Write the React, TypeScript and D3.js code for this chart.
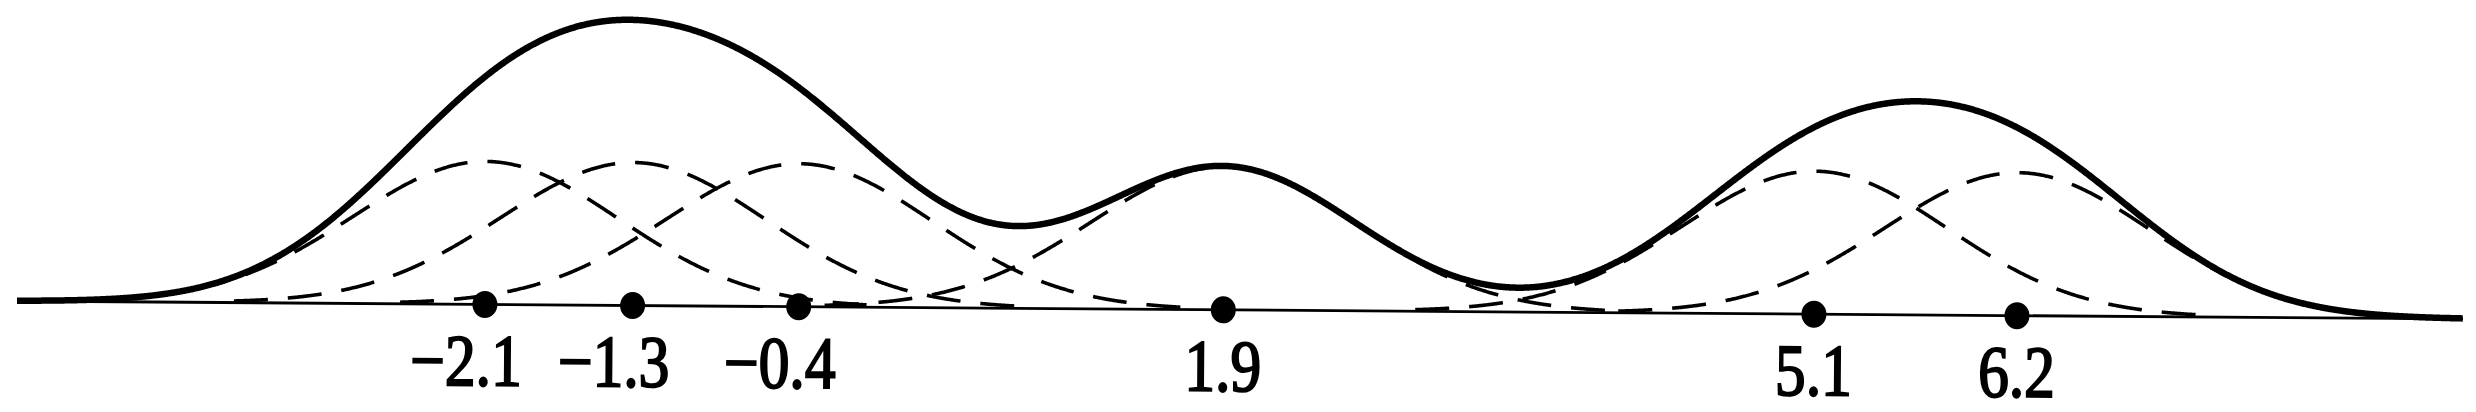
import React from "react";
import * as d3 from "d3";

// ---- data ----
const dataPoints: number[] = [-2.1, -1.3, -0.4, 1.9, 5.1, 6.2];
const tickLabels: string[] = ["−2.1", "−1.3", "−0.4", "1.9", "5.1", "6.2"];
const bandwidth = 0.72; // kernel standard deviation
const axisDomain: [number, number] = [-4.635, 8.616];
const kernelPeak = 1; // unnormalised kernel height
const yDomain: [number, number] = [0, 1];

const W = 2476;
const H = 412;

function kernel(v: number, c: number): number {
  const u = (v - c) / bandwidth;
  return kernelPeak * Math.exp(-0.5 * u * u);
}

export default function App() {
  const x = d3.scaleLinear().domain(axisDomain).range([17, 2463]);
  const y = d3.scaleLinear().domain(yDomain).range([301, 158]);

  const samples = d3.range(axisDomain[0], axisDomain[1] + 0.0001, 0.005);
  const line = d3
    .line<[number, number]>()
    .x((d) => x(d[0]))
    .y((d) => y(d[1]));

  const sumPath = line(
    samples.map((v) => [v, d3.sum(dataPoints, (c) => kernel(v, c))] as [number, number])
  );

  const kernelPaths = dataPoints.map((c) => {
    const pts = d3
      .range(c - 3 * bandwidth, c + 3 * bandwidth + 0.0001, 0.005)
      .map((v) => [v, kernel(v, c)] as [number, number]);
    return line(pts);
  });

  return (
    <svg
      width={W}
      height={H}
      viewBox={`0 0 ${W} ${H}`}
      style={{ position: "absolute", left: 0, top: 0, background: "#fff" }}
    >
      <rect x={0} y={0} width={W} height={H} fill="#fff" />
      <g transform="rotate(0.42 17 301)">
        {/* baseline axis */}
        <line
          x1={x(axisDomain[0])}
          x2={x(axisDomain[1])}
          y1={y(0)}
          y2={y(0)}
          stroke="#000"
          strokeWidth={2.8}
        />
        {/* individual kernels */}
        {kernelPaths.map((p, i) => (
          <path
            key={"k" + i}
            d={p || ""}
            fill="none"
            stroke="#000"
            strokeWidth={3.6}
            strokeDasharray="34 20"
          />
        ))}
        {/* kernel density estimate */}
        <path d={sumPath || ""} fill="none" stroke="#000" strokeWidth={6.5} strokeLinejoin="round" />
        {/* data points */}
        {dataPoints.map((c, i) => (
          <ellipse key={"p" + i} cx={x(c)} cy={y(0)} rx={12.5} ry={13.5} fill="#000" />
        ))}
        {/* labels */}
        {dataPoints.map((c, i) => (
          <text
            key={"t" + i}
            transform={`translate(${x(c)},${y(0) + 81}) scale(0.88,1.05)`}
            dx={c < 0 ? "-0.3em" : "0"}
            textAnchor="middle"
            style={{
              fontFamily: '"Liberation Serif", "Times New Roman", Times, serif',
              fontSize: "70px",
            }}
            fill="#000"
            stroke="#000"
            strokeWidth={2}
          >
            {tickLabels[i]}
          </text>
        ))}
      </g>
    </svg>
  );
}
